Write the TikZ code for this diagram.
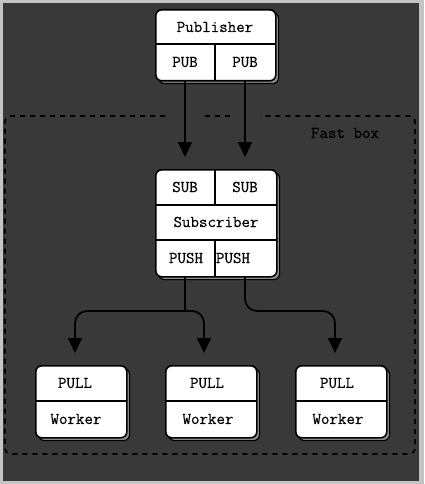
\documentclass[tikz,border=0pt]{standalone}
\usepackage{fontspec}
\newfontfamily\heavytt[FakeBold=0.4]{Latin Modern Mono}
\usetikzlibrary{arrows.meta}
\definecolor{bgdark}{RGB}{57,57,57}
\definecolor{frame}{RGB}{196,196,196}
\definecolor{shadowgray}{RGB}{140,140,140}
\begin{document}
\begin{tikzpicture}[x=1pt,y=-1pt,
  boxnode/.style={draw=black, fill=white, line width=1.6pt, rounded corners=6pt, anchor=north west, inner sep=0pt},
  shadownode/.style={draw=black, fill=shadowgray, line width=1.2pt, rounded corners=6pt, anchor=north west, inner sep=0pt},
  lbl/.style={font=\heavytt\fontsize{16.5}{18}\selectfont, text=black, inner sep=0pt},
  divider/.style={line width=1.6pt, black},
  conn/.style={line width=1.8pt, black},
  arr/.style={conn, -{Triangle[width=14pt,length=15pt]}},
  fastbox/.style={line width=1.8pt, black, dash pattern=on 5pt off 5pt, rounded corners=6pt}]
\useasboundingbox (0,0) rectangle (424,484);
\fill[frame] (0,0) rectangle (424,484);
\fill[bgdark] (3,3) rectangle (419,481);

% fast box (dashed), top edge with gaps where arrows cross
\draw[fastbox] (165,116) -- (5,116) -- (5,454) -- (415,454) -- (415,116) -- (260,116);
\draw[fastbox] (205,116) -- (232,116);
\node[lbl] (fastlbl) at (345,133) {Fast box};

% Publisher
\node[shadownode, minimum width=120pt, minimum height=71pt] (pubsh) at (158,12) {};
\node[boxnode, minimum width=120pt, minimum height=71pt] (pub) at (155,9) {};
\draw[divider] (155,44) -- (275,44);
\draw[divider] (215,44) -- (215,80);
\node[lbl] (publbl) at (215,27) {Publisher};
\node[lbl] (pub1) at (185,62) {PUB};
\node[lbl] (pub2) at (245,62) {PUB};
\coordinate (pubA) at (185,81);
\coordinate (pubB) at (245,81);

% Subscriber
\node[shadownode, minimum width=121pt, minimum height=107pt] (subsh) at (158,172) {};
\node[boxnode, minimum width=121pt, minimum height=107pt] (sub) at (155,169) {};
\draw[divider] (155,205) -- (276,205);
\draw[divider] (155,240) -- (276,240);
\draw[divider] (215,169) -- (215,205);
\draw[divider] (215,240) -- (215,276);
\node[lbl] (sub1) at (185,187) {SUB};
\node[lbl] (sub2) at (245,187) {SUB};
\node[lbl] (sublbl) at (216,222) {Subscriber};
\node[lbl] (push1) at (186,258) {PUSH};
\node[lbl] (push2) at (233,258) {PUSH};
\coordinate (subA) at (185,157);
\coordinate (subB) at (245,157);
\coordinate (pushA) at (185,277);
\coordinate (pushB) at (245,277);
\coordinate (junc) at (185,311);

% Workers
\foreach \n/\x/\tx in {w1/35/75, w2/165/207, w3/295/337} {
  \node[shadownode, minimum width=91pt, minimum height=72pt] (\n sh) at (\x+3,368) {};
  \node[boxnode, minimum width=91pt, minimum height=72pt] (\n) at (\x,365) {};
  \draw[divider] (\x,401) -- (\x+91,401);
  \node[lbl] (\n pull) at (\tx,383) {PULL};
  \node[lbl] (\n lbl) at (\tx+1,419) {Worker};
}
\coordinate (w1in) at (75,353);
\coordinate (w2in) at (204,353);
\coordinate (w3in) at (335,353);

% connectors
\draw[arr] (pubA) -- (subA);
\draw[arr] (pubB) -- (subB);
\draw[conn] (pushA) -- (junc);
\draw[arr, rounded corners=12pt] (junc) -| (w1in);
\draw[arr, rounded corners=12pt] (junc) -| (w2in);
\draw[arr, rounded corners=12pt] (pushB) |- (290,311) -| (w3in);
\end{tikzpicture}
\end{document}
